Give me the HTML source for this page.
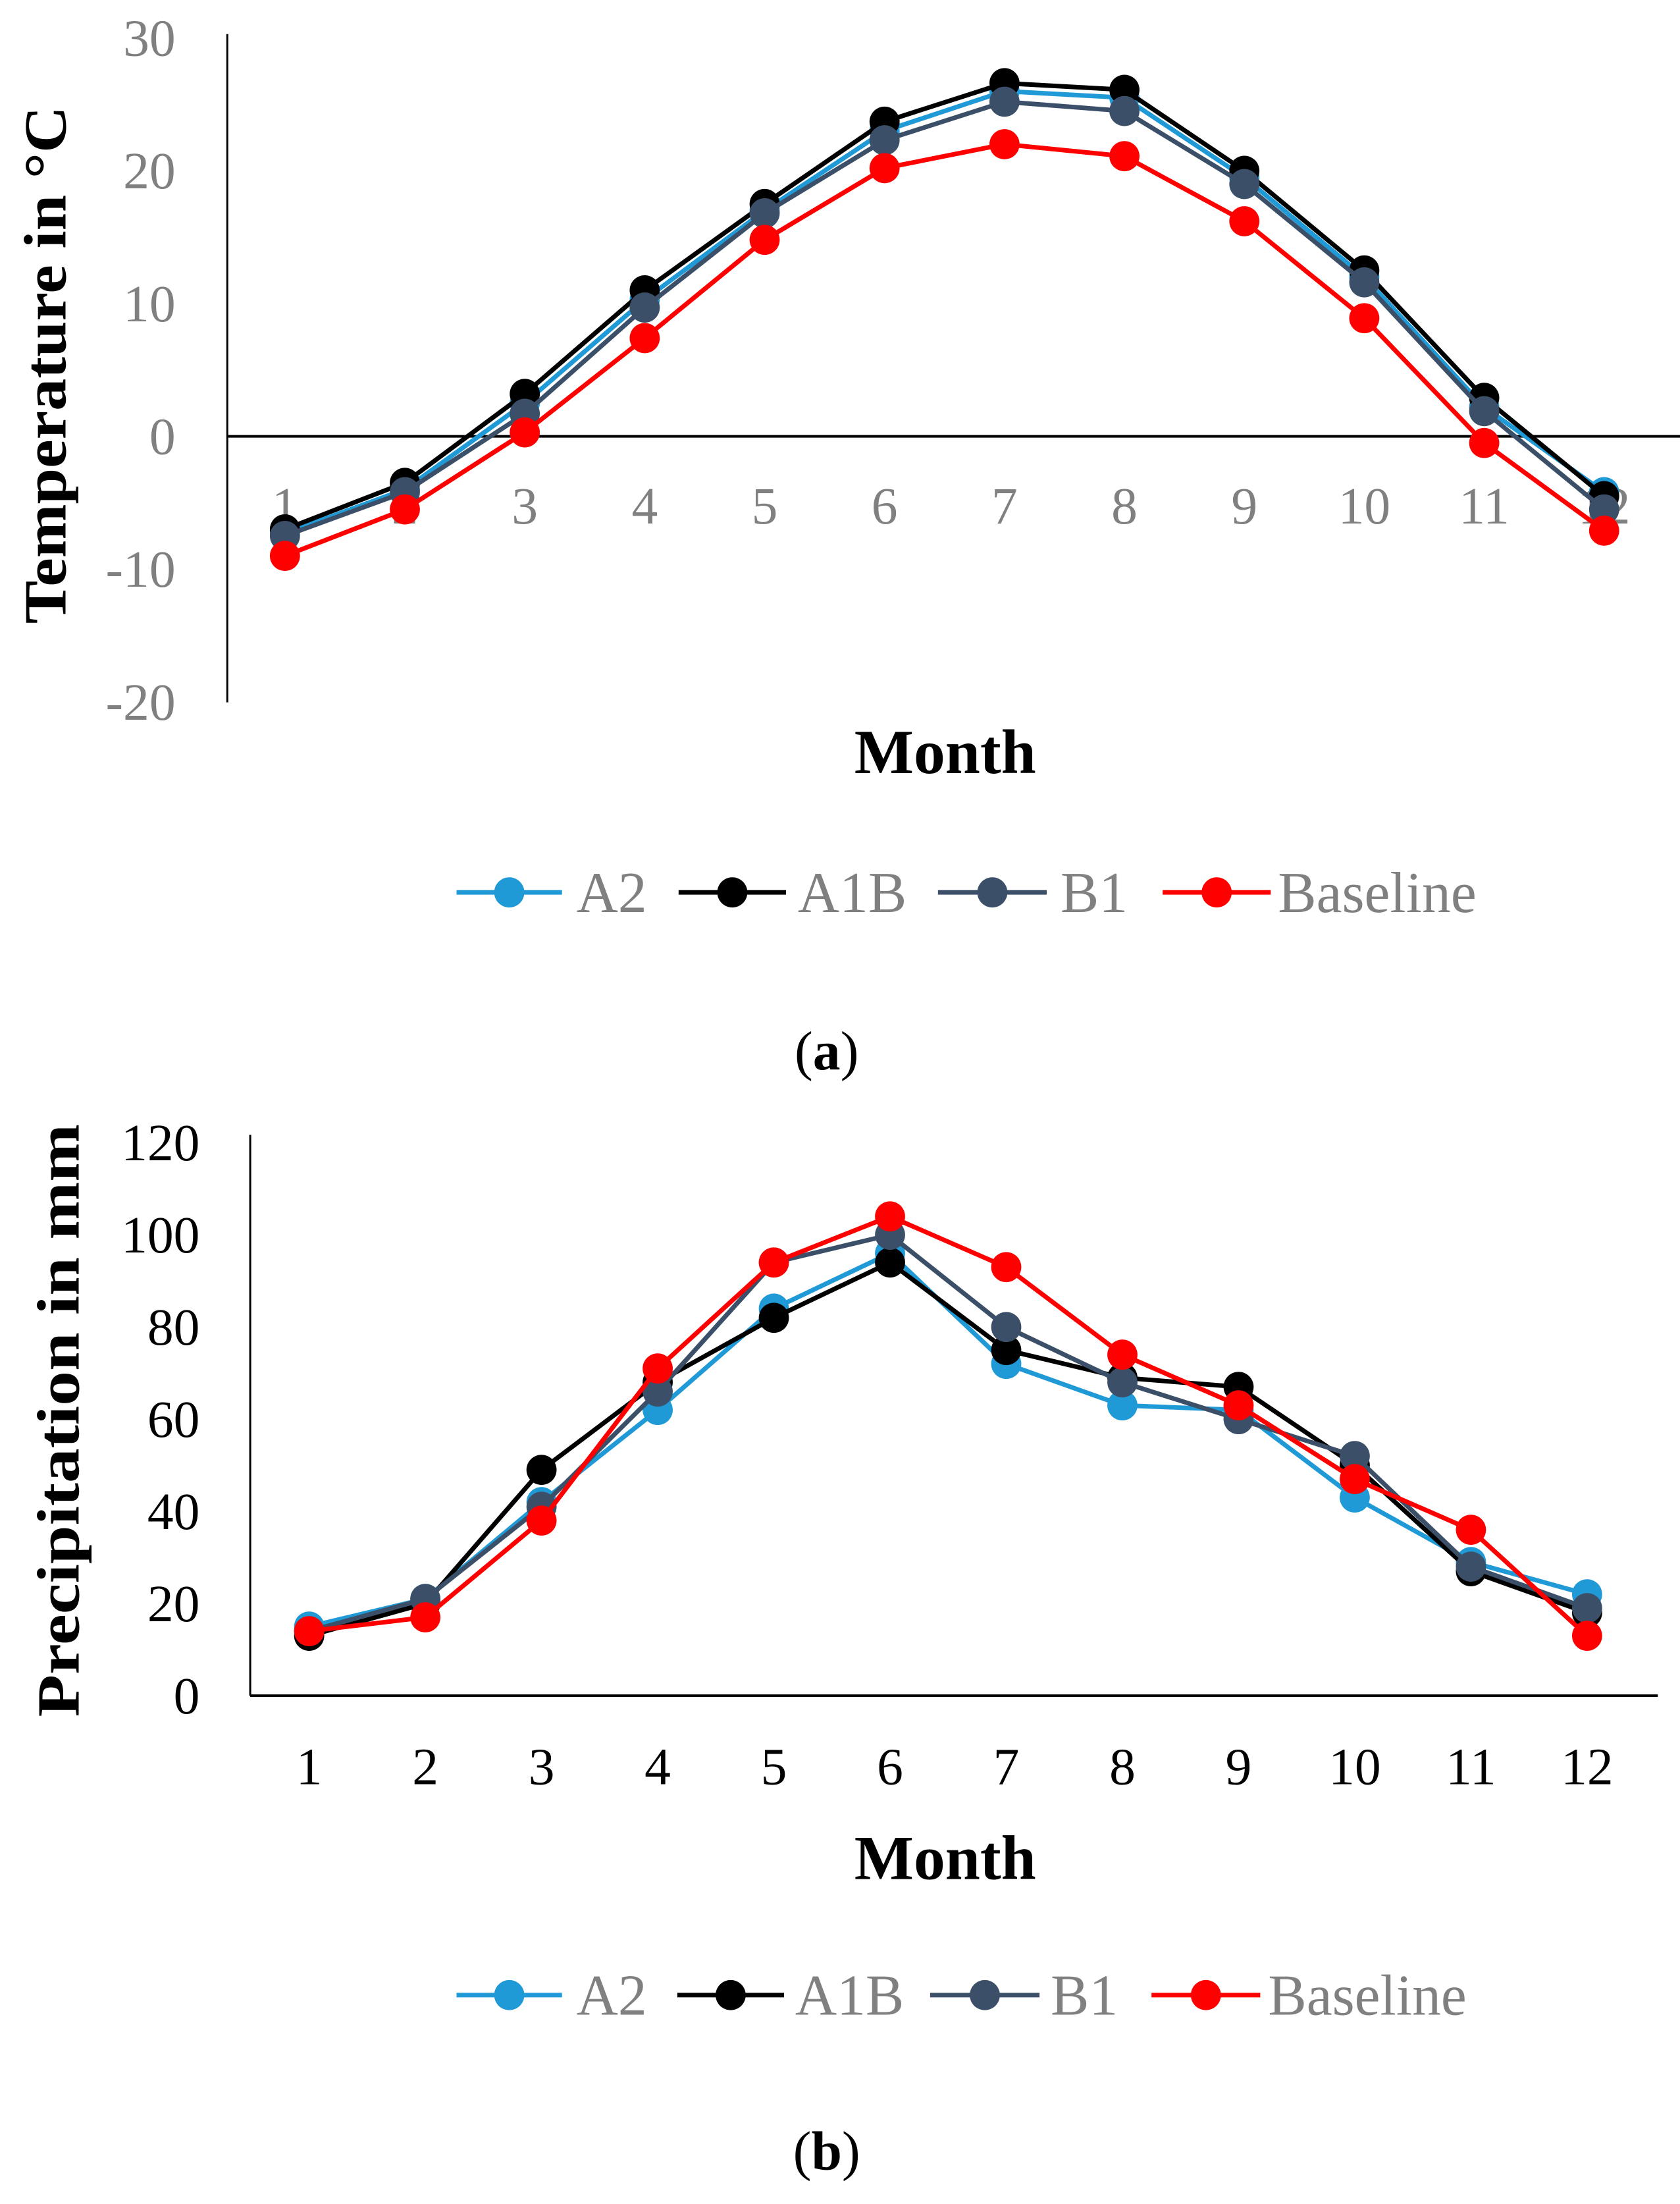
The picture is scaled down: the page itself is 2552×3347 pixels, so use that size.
<!DOCTYPE html>
<html><head><meta charset="utf-8">
<style>
html,body{margin:0;padding:0;background:#fff;}
svg{display:block;font-family:"Liberation Serif",serif;}
</style></head>
<body>
<svg id="chart" width="2552" height="3347" viewBox="0 0 2552 3347" xmlns="http://www.w3.org/2000/svg">
<rect width="2552" height="3347" fill="#fff"/>
</svg>
<script>
const months = [1,2,3,4,5,6,7,8,9,10,11,12];
const seriesNames = ["A2","A1B","B1","Baseline"];
const tempA2 = [-7.3,-4,2.5,10.3,17,23,26,25.5,19.5,12,2.2,-4.2];
const tempA1B = [-7,-3.5,3.2,11,17.5,23.7,26.6,26.1,20,12.5,2.9,-4.5];
const tempB1 = [-7.5,-4.2,1.7,9.7,16.8,22.3,25.2,24.5,19,11.6,1.9,-5.5];
const tempBaseline = [-9,-5.5,0.3,7.4,14.8,20.2,22,21.1,16.2,8.9,-0.5,-7.1];
const tempTicks = [30,20,10,0,-10,-20];
const precA2 = [15,21,42,62,84,96,72,63,62,43,29,22];
const precA1B = [13,20,49,68,82,94,75,69,67,50,27,18];
const precB1 = [14,21,41,66,94,100,80,68,60,52,28,19];
const precBaseline = [14,17,38,71,94,104,93,74,63,47,36,13];
const precTicks = [120,100,80,60,40,20,0];

const colors = ["#1f9ad6","#000000","#3b5068","#ff0000"];
const NS="http://www.w3.org/2000/svg";
const svg=document.getElementById('chart');
function mk(tag,attrs,parent){const e=document.createElementNS(NS,tag);for(const k in attrs)e.setAttribute(k,attrs[k]);(parent||svg).appendChild(e);return e;}

function drawChart(cfg){
  const g=mk('g',{transform:'scale(0.995)'});
  
  
  const x=m=>cfg.x1+(m-1)*(cfg.x12-cfg.x1)/11;
  const y=v=>cfg.y0+(v-cfg.v0)*(cfg.yTop-cfg.y0)/(cfg.vTop-cfg.v0);
  const ya=mk('line',{x1:cfg.axisX,y1:cfg.axisTop,x2:cfg.axisX,y2:cfg.axisBottom,stroke:'#000','stroke-width':3},g);
  
  
  const xa=mk('line',{x1:cfg.axisX,y1:y(0),x2:cfg.axisRight,y2:y(0),stroke:'#000','stroke-width':4},g);
  
  
  cfg.ticks.forEach(t=>{
    const tx=mk('text',{x:cfg.tickRight,y:y(t)+27,'text-anchor':'end','font-size':80,fill:cfg.tickColor},g);
    tx.textContent=t;
    
    
  });
  months.forEach(m=>{
    const tx=mk('text',{x:x(m),y:cfg.xLabY+27,'text-anchor':'middle','font-size':80,fill:cfg.tickColor},g);
    tx.textContent=m;
    
    
  });
  cfg.series.forEach((s,i)=>{
    const pts=s.map((v,j)=>x(months[j])+','+y(v)).join(' ');
    const pl=mk('polyline',{points:pts,fill:'none',stroke:colors[i],'stroke-width':7,'stroke-linejoin':'round'},g);
    
    
    s.forEach((v,j)=>{
      const c=mk('circle',{cx:x(months[j]),cy:y(v),r:23,fill:colors[i]},g);
      
      
    });
  });
  const yt=mk('text',{transform:`translate(${cfg.yTitleX},${cfg.yTitleY}) rotate(-90)`,'text-anchor':'middle','font-size':92,'font-weight':'bold',fill:'#000',textLength:cfg.yTitleLen,lengthAdjust:'spacingAndGlyphs'},g);
  yt.textContent=cfg.yTitle;
  
  
  const xt=mk('text',{x:1443,y:cfg.monthY+33,'text-anchor':'middle','font-size':96,'font-weight':'bold',fill:'#000'},g);
  xt.textContent='Month';
  
  
  cfg.legend.forEach((L,i)=>{
    const lg=mk('g',{},g);
    
    
    mk('line',{x1:L[0],y1:cfg.legY,x2:L[1],y2:cfg.legY,stroke:colors[i],'stroke-width':7},lg);
    mk('circle',{cx:(L[0]+L[1])/2,cy:cfg.legY,r:23,fill:colors[i]},lg);
    const t=mk('text',{x:L[2],y:cfg.legY+30,'font-size':88,fill:'#808080'},lg);
    t.textContent=seriesNames[i];
  });
  const cap=mk('text',{x:1262,y:cfg.capY+28,'text-anchor':'middle','font-size':84,fill:'#000'},g);
  cap.innerHTML='(<tspan font-weight="bold">'+cfg.cap+'</tspan>)';
  
  
}

drawChart({name:'temperature-chart',x1:435,x12:2449,v0:0,y0:666,vTop:30,yTop:58,
  axisX:347,axisTop:52,axisBottom:1072,axisRight:2565,ticks:tempTicks,tickRight:268,tickColor:'#808080',
  xLabY:772,series:[tempA2,tempA1B,tempB1,tempBaseline],
  yTitle:'Temperature in \u00B0C',yTitleX:100,yTitleY:557,yTitleLen:790,monthY:1147,
  legY:1362,legend:[[697,858,880],[1036,1200,1218],[1432,1598,1619],[1775,1940,1951]],capY:1604,cap:'a'});

drawChart({name:'precipitation-chart',x1:472,x12:2423,v0:0,y0:2588,vTop:120,yTop:1744,
  axisX:382,axisTop:1732,axisBottom:2588,axisRight:2531,ticks:precTicks,tickRight:305,tickColor:'#000',
  xLabY:2696,series:[precA2,precA1B,precB1,precBaseline],
  yTitle:'Precipitation in mm',yTitleX:120,yTitleY:2168,yTitleLen:905,monthY:2835,
  legY:3045,legend:[[697,858,880],[1034,1197,1214],[1420,1587,1604],[1758,1924,1936]],capY:3283,cap:'b'});
</script>
</body></html>
